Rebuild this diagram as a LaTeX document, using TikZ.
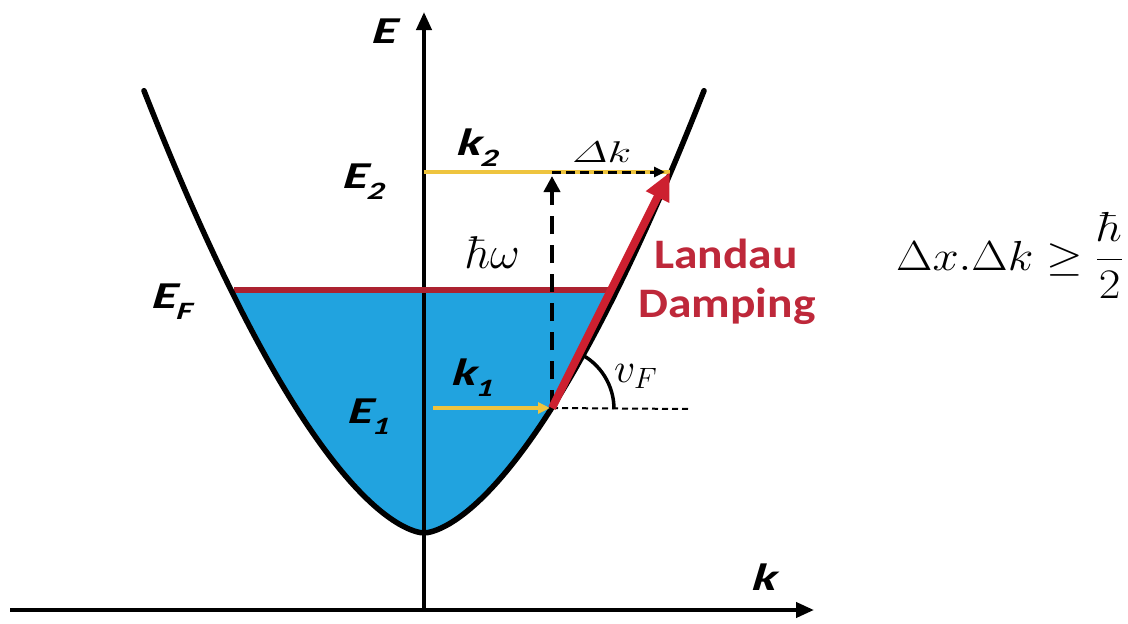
\RequirePackage{fix-cm}
\documentclass[tikz,border=0pt]{standalone}
\usepackage{amsmath}
\usepackage{fontspec}
\usetikzlibrary{arrows.meta}
\newfontfamily\lblfont{Carlito}
\newfontfamily\lblbi{Carlito}[BoldFeatures={FakeSlant=0.22}]
\definecolor{fillblue}{RGB}{33,163,223}
\definecolor{efred}{RGB}{172,34,48}
\definecolor{arrred}{RGB}{205,32,48}
\definecolor{txtred}{RGB}{190,40,58}
\definecolor{kyellow}{RGB}{238,196,62}
\newcommand\widetxt[2][1.35]{\scalebox{#1}[1]{#2}}
\newcommand\subl[2]{\widetxt{#1\raisebox{-0.3em}{\fontsize{25}{25}\selectfont #2}}}
\begin{document}
\begin{tikzpicture}[x=1pt,y=-1pt,
  lbl/.style={inner sep=0pt, anchor=base west, font=\lblbi\bfseries\fontsize{38}{40}\selectfont},
  mathlbl/.style={inner sep=0pt, anchor=base west, font=\fontsize{38}{40}\selectfont},
  redlbl/.style={inner sep=0pt, anchor=base, text=txtred, font=\lblfont\bfseries\fontsize{42}{46}\selectfont},
  axisline/.style={line width=4pt, -{Triangle[length=18pt,width=15pt]}},
  curve/.style={line width=5.5pt, line join=round, line cap=round},
  yarrow/.style={kyellow, line width=4pt, -{Triangle[length=12pt,width=11pt]}},
  ]
\useasboundingbox (0,0) rectangle (1128,624);

\coordinate (O) at (424,610);
\coordinate (Etop) at (424,12);
\coordinate (Kleft) at (10,610);
\coordinate (Kright) at (814,610);
\coordinate (E1pt) at (552,408);
\coordinate (E2pt) at (670,172);
\coordinate (EFl) at (234,290);
\coordinate (EFr) at (612,290);
\coordinate (K2start) at (424,172);
\coordinate (DKstart) at (552,172);
\coordinate (DKend) at (665,172);
\coordinate (HWend) at (552,176);
\coordinate (K1start) at (433,408);
\coordinate (K1end) at (550,408);
\coordinate (HDend) at (690,409);
\coordinate (ArcStart) at (614,409);

% filled Fermi sea
\begin{scope}
\clip (0,290) rectangle (1128,624);
\fill[fillblue] plot[domain=-280:280, samples=80, smooth] ({424+\x}, {533-0.0508*abs(\x)^1.61});
\end{scope}

% axes
\draw[axisline] (Kleft) -- (Kright);
\draw[axisline] (O) -- (Etop);

% Fermi level
\draw[efred, line width=5.5pt] (EFl) -- (EFr);

% dispersion
\draw[curve] plot[domain=-280:280, samples=80, smooth] ({424+\x}, {533-0.0508*abs(\x)^1.61});

% k2 line
\draw[kyellow, line width=4pt] (K2start) -- (E2pt);
% Delta k
\draw[line width=3pt, dash pattern=on 9pt off 5pt, -{Triangle[length=11pt,width=10pt]}] (DKstart) -- (DKend);
% hbar omega
\draw[line width=4pt, dash pattern=on 18pt off 11pt, -{Triangle[length=16pt,width=16pt]}] (E1pt) -- (HWend);
% horizontal dashed reference
\draw[line width=2pt, dash pattern=on 6pt off 4pt] (E1pt) -- (HDend);
% angle arc
\draw[line width=3.5pt] (ArcStart) arc[start angle=0, end angle=-64, radius=62];
% k1 arrow
\draw[yarrow] (K1start) -- (K1end);
% Landau damping arrow
\draw[arrred, line width=8pt, -{Triangle[length=28pt,width=24pt]}] (E1pt) -- (E2pt);

% labels
\node[lbl] (lE) at (370,43) {\widetxt{E}};
\node[lbl] (lE2) at (341,188) {\subl{E}{2}};
\node[lbl] (lEF) at (150,308) {\subl{E}{F}};
\node[lbl] (lE1) at (346,423) {\subl{E}{1}};
\node[lbl] (lk2) at (455,155) {\subl{k}{2}};
\node[lbl] (lk1) at (450,385) {\subl{k}{1}};
\node[lbl] (lk) at (750,590) {\widetxt{k}};
\node[mathlbl, font=\fontsize{30}{32}\selectfont] (ldk) at (572,162) {\scalebox{1.45}[1]{$\varDelta k$}};
\node[mathlbl, font=\fontsize{46}{48}\selectfont] (lhw) at (466,268) {$\hbar\omega$};
\node[mathlbl, font=\fontsize{42}{44}\selectfont] (lvf) at (614,382) {$v_F$};
\node[redlbl] (land) at (726,268) {\scalebox{1.13}[1]{Landau}};
\node[redlbl] (damp) at (727,317) {\scalebox{1.13}[1]{Damping}};

% uncertainty relation
\node[inner sep=0pt, anchor=base west, font=\fontsize{42}{46}\selectfont] (eq) at (896,270) {\scalebox{1.12}[1]{$\Delta x.\Delta k \geq \dfrac{\hbar}{2}$}};
\end{tikzpicture}
\end{document}
